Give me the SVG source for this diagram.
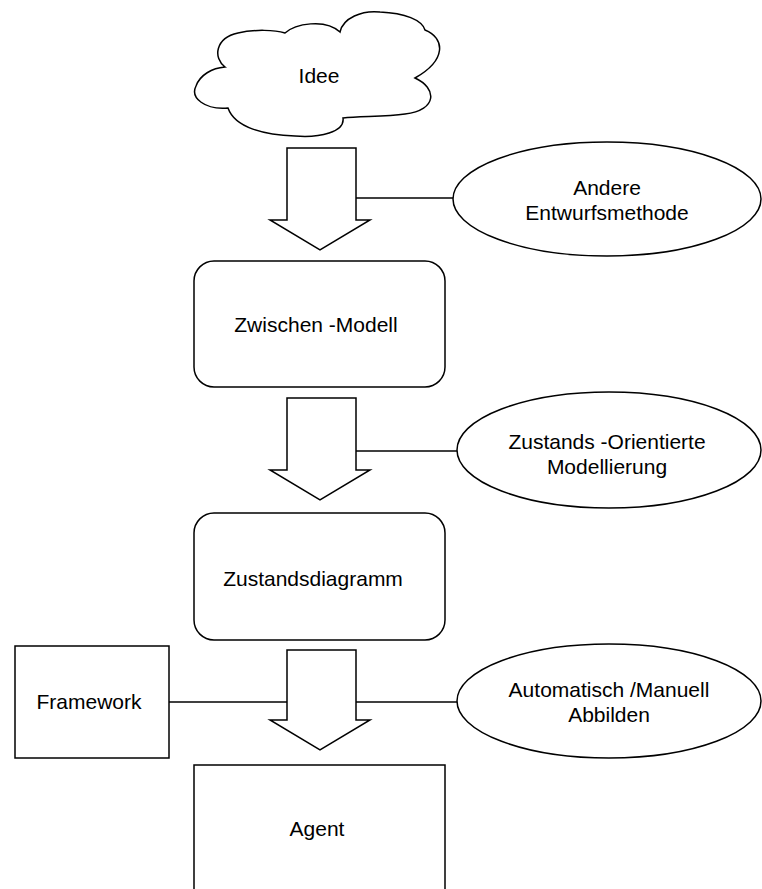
<svg xmlns="http://www.w3.org/2000/svg" width="762" height="889" viewBox="0 0 762 889">
  <style>
    .shape { fill: #ffffff; stroke: #000000; stroke-width: 1.5; }
    .conn { fill: none; stroke: #000000; stroke-width: 1.5; }
    .label { font-family: "Liberation Sans", Arial, sans-serif; font-size: 21px; fill: #000000; text-anchor: middle; }
  </style>
  <rect x="0" y="0" width="762" height="889" fill="#ffffff"/>

  <!-- block arrows and side connectors -->
  <g id="connectors">
    <path id="arrow-1" class="shape" d="M287,148 H356 V220 H370 L320,250 L270,220 H287 Z"/>
    <path id="arrow-2" class="shape" d="M287,398 H356 V470 H370 L320,500 L270,470 H287 Z"/>
    <path id="arrow-3" class="shape" d="M287,650 H356 V720 H370 L320,750 L270,720 H287 Z"/>
    <line class="conn" x1="356" y1="198" x2="453" y2="198"/>
    <line class="conn" x1="356" y1="451" x2="457" y2="451"/>
    <line class="conn" x1="169" y1="702" x2="287" y2="702"/>
    <line class="conn" x1="356" y1="702" x2="457" y2="702"/>
  </g>

  <g id="idee">
    <path class="shape" d="M225,67 C213,58 215,38 238,33 C255,29 275,30 285,33 C295,24 325,18 340,32 C343,18 362,10 380,12 C405,13 422,20 425,30 C445,38 447,60 415,78 C437,88 438,110 405,114 C385,117 360,116 343,118 C345,132 320,138 295,136 C265,135 235,128 228,108 C205,110 190,98 196,86 C200,75 212,68 225,67 Z"/>
    <text class="label" x="319" y="83">Idee</text>
  </g>

  <g id="andere-entwurfsmethode">
    <ellipse class="shape" cx="607" cy="199" rx="154" ry="57"/>
    <text class="label" x="607" y="195">Andere</text>
    <text class="label" x="607" y="220">Entwurfsmethode</text>
  </g>

  <g id="zwischen-modell">
    <rect class="shape" x="194" y="261" width="251" height="126" rx="20" ry="20"/>
    <text class="label" x="316" y="332">Zwischen -Modell</text>
  </g>

  <g id="zustands-orientierte-modellierung">
    <ellipse class="shape" cx="609" cy="450" rx="152" ry="58"/>
    <text class="label" x="607" y="449">Zustands -Orientierte</text>
    <text class="label" x="607" y="474">Modellierung</text>
  </g>

  <g id="zustandsdiagramm">
    <rect class="shape" x="194" y="513" width="251" height="127" rx="20" ry="20"/>
    <text class="label" x="313" y="586">Zustandsdiagramm</text>
  </g>

  <g id="framework">
    <rect class="shape" x="15" y="646" width="154" height="112"/>
    <text class="label" x="89" y="709">Framework</text>
  </g>

  <g id="automatisch-manuell-abbilden">
    <ellipse class="shape" cx="609" cy="701" rx="152" ry="57"/>
    <text class="label" x="609" y="697">Automatisch /Manuell</text>
    <text class="label" x="609" y="722">Abbilden</text>
  </g>

  <g id="agent">
    <rect class="shape" x="194" y="765" width="251" height="140"/>
    <text class="label" x="317" y="836">Agent</text>
  </g>
</svg>
